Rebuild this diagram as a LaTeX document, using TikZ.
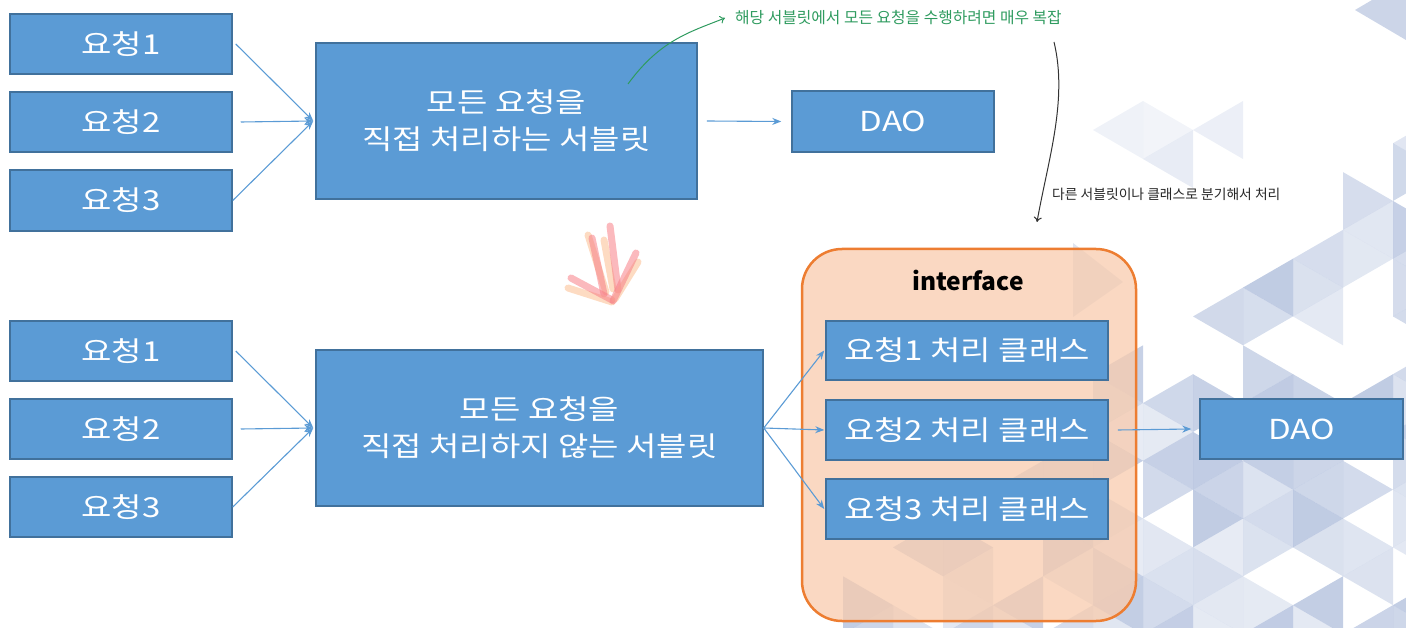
\documentclass[tikz,border=0pt]{standalone}
\usepackage{fontspec}
\setmainfont{Noto Sans CJK KR}
\newfontfamily\bxfont{Noto Sans CJK KR}[FakeStretch=1.2]
\usetikzlibrary{arrows.meta,calc}
\definecolor{boxfill}{HTML}{5B9BD5}
\definecolor{boxline}{HTML}{41719C}
\definecolor{ifill}{HTML}{F8CBAD}
\definecolor{iline}{HTML}{ED7D31}
\definecolor{tricol}{HTML}{7F96C6}
\definecolor{hgreen}{HTML}{2F9B5F}
\definecolor{peach}{HTML}{FBC39A}
\definecolor{pinkr}{HTML}{F77F86}
\begin{document}
\begin{tikzpicture}[x=1pt,y=-1pt,
  bx/.style={draw=boxline, fill=boxfill, line width=1.5pt, text=white, font=\bxfont\fontsize{27.5}{37}\selectfont, inner sep=0pt, align=center},
  arr/.style={draw=boxfill, line width=1.1pt, -{Stealth[length=9pt,width=7pt]}},
  stroke/.style={line width=7pt, line cap=round}]
\useasboundingbox (0,0) rectangle (1406,628);
% background triangle pattern
\begin{scope}
\clip (0,0) rectangle (1406,628);
\pgfmathsetseed{12}
\foreach \j in {-10,...,4}{
  \foreach \m in {-1,...,11}{
    \pgfmathsetmacro\xa{1193+50*\j}
    \pgfmathsetmacro\ya{-30+57.74*\m+mod(\j+20,2)*28.87}
    \pgfmathsetmacro\ra{rnd}
    \pgfmathsetmacro\rb{rnd}
    \pgfmathtruncatemacro\showa{(\ya+28.87>0.85*(1406-\xa-17)+135)*(\ra>0.25)}
    \pgfmathtruncatemacro\showb{(\ya+57.74>0.85*(1406-\xa-33)+135)*(\rb>0.25)}
    \ifnum\showa=1
      \fill[tricol, opacity=0.08+0.42*\ra] (\xa,\ya) -- (\xa,\ya+57.74) -- (\xa+50,\ya+28.87) -- cycle;
    \fi
    \ifnum\showb=1
      \fill[tricol, opacity=0.08+0.42*\rb] (\xa+50,\ya+28.87) -- (\xa+50,\ya+86.6) -- (\xa,\ya+57.74) -- cycle;
    \fi
  }
}
\fill[tricol, opacity=0.4] (1355,10) -- (1406,-20) -- (1406,40) -- cycle;
\fill[tricol, opacity=0.12] (1093,130) -- (1143,101) -- (1143,159) -- cycle;
\fill[tricol, opacity=0.18] (1143,159) -- (1193,130) -- (1193,188) -- cycle;
\fill[tricol, opacity=0.10] (1143,101) -- (1193,130) -- (1143,159) -- cycle;
\fill[tricol, opacity=0.15] (1193,130) -- (1243,101) -- (1243,159) -- cycle;
\fill[tricol, opacity=0.25] (1073,243) -- (1123,282) -- (1073,317) -- cycle;
\end{scope}

% interface container
\node[draw=iline, fill=ifill, fill opacity=0.75, line width=2.5pt, rounded corners=40pt, minimum width=334pt, minimum height=372pt] (itf) at (969,435) {};
\node[font=\fontsize{24.5}{28}\selectfont\bfseries] (itl) at (968,280) {interface};

% top row
\node[bx, minimum width=222pt, minimum height=60pt] (a1) at (121,44) {요청1};
\node[bx, minimum width=222pt, minimum height=60pt] (a2) at (121,122) {요청2};
\node[bx, minimum width=222pt, minimum height=61pt] (a3) at (121,200.5) {요청3};
\node[bx, minimum width=381pt, minimum height=156pt] (s1) at (506.5,121) {모든 요청을\\직접 처리하는 서블릿};
\node[bx, minimum width=202pt, minimum height=61pt] (d1) at (893,121.5) {DAO};

% bottom row
\node[bx, minimum width=222pt, minimum height=60pt] (b1) at (121,351) {요청1};
\node[bx, minimum width=222pt, minimum height=60pt] (b2) at (121,429) {요청2};
\node[bx, minimum width=222pt, minimum height=60pt] (b3) at (121,507) {요청3};
\node[bx, minimum width=447pt, minimum height=156pt] (s2) at (539.5,428) {모든 요청을\\직접 처리하지 않는 서블릿};
\node[bx, minimum width=282pt, minimum height=59pt] (c1) at (967,350.5) {요청1 처리 클래스};
\node[bx, minimum width=282pt, minimum height=60pt] (c2) at (967,430) {요청2 처리 클래스};
\node[bx, minimum width=282pt, minimum height=60pt] (c3) at (967,509) {요청3 처리 클래스};
\node[bx, minimum width=203pt, minimum height=60pt] (d2) at (1301.5,429) {DAO};

% connectors top
\draw[arr] ([xshift=3pt]a1.east) -- ([xshift=-2pt]s1.west);
\draw[arr] ([xshift=8pt]a2.east) -- ([xshift=-2pt]s1.west);
\draw[arr] (a3.east) -- ([xshift=-2pt]s1.west);
\draw[arr] ([xshift=9pt]s1.east) -- ([xshift=-10pt]d1.west);
% connectors bottom
\draw[arr] ([xshift=3pt]b1.east) -- ([xshift=-2pt]s2.west);
\draw[arr] ([xshift=8pt]b2.east) -- ([xshift=-2pt]s2.west);
\draw[arr] (b3.east) -- ([xshift=-2pt]s2.west);
\draw[arr] (s2.east) -- ([xshift=-1pt]c1.west);
\draw[arr] (s2.east) -- ([xshift=-1pt]c2.west);
\draw[arr] (s2.east) -- ([xshift=-1pt]c3.west);
\draw[arr] ([xshift=9pt]c2.east) -- ([xshift=-8pt]d2.west);

% handwritten annotations
\node[text=hgreen, font=\fontsize{15.8}{18}\selectfont, anchor=west, inner sep=0pt] (g) at (735,18) {해당 서블릿에서 모든 요청을 수행하려면 매우 복잡};
\coordinate (gs) at (628,84);
\draw[hgreen, line width=1pt, -{To[length=5pt,width=8pt]}] (gs) .. controls (660,40) and (690,32) .. ([xshift=-10pt]g.west);
\node[text=black!85, font=\fontsize{13.8}{16}\selectfont, anchor=west, inner sep=0pt] (k) at (1052,194) {다른 서블릿이나 클래스로 분기해서 처리};
\coordinate (ks) at (1054,42);
\coordinate (ke) at (1037,222);
\draw[black!80, line width=1pt, -{To[length=5pt,width=8pt]}] (ks) .. controls (1068,100) and (1048,160) .. (ke);

% scribbled arrow
\draw[stroke, peach, opacity=0.6] (588,235) -- (606,292);
\draw[stroke, pinkr, opacity=0.55] (592,238) -- (604,294);
\draw[stroke, peach, opacity=0.6] (604,240) -- (613,289);
\draw[stroke, pinkr, opacity=0.55] (610,226) -- (618,290);
\draw[stroke, peach, opacity=0.6] (568,288) -- (612,302);
\draw[stroke, pinkr, opacity=0.55] (571,278) -- (612,300);
\draw[stroke, peach, opacity=0.6] (638,262) -- (615,299);
\draw[stroke, pinkr, opacity=0.55] (636,253) -- (613,301);
\end{tikzpicture}
\end{document}
